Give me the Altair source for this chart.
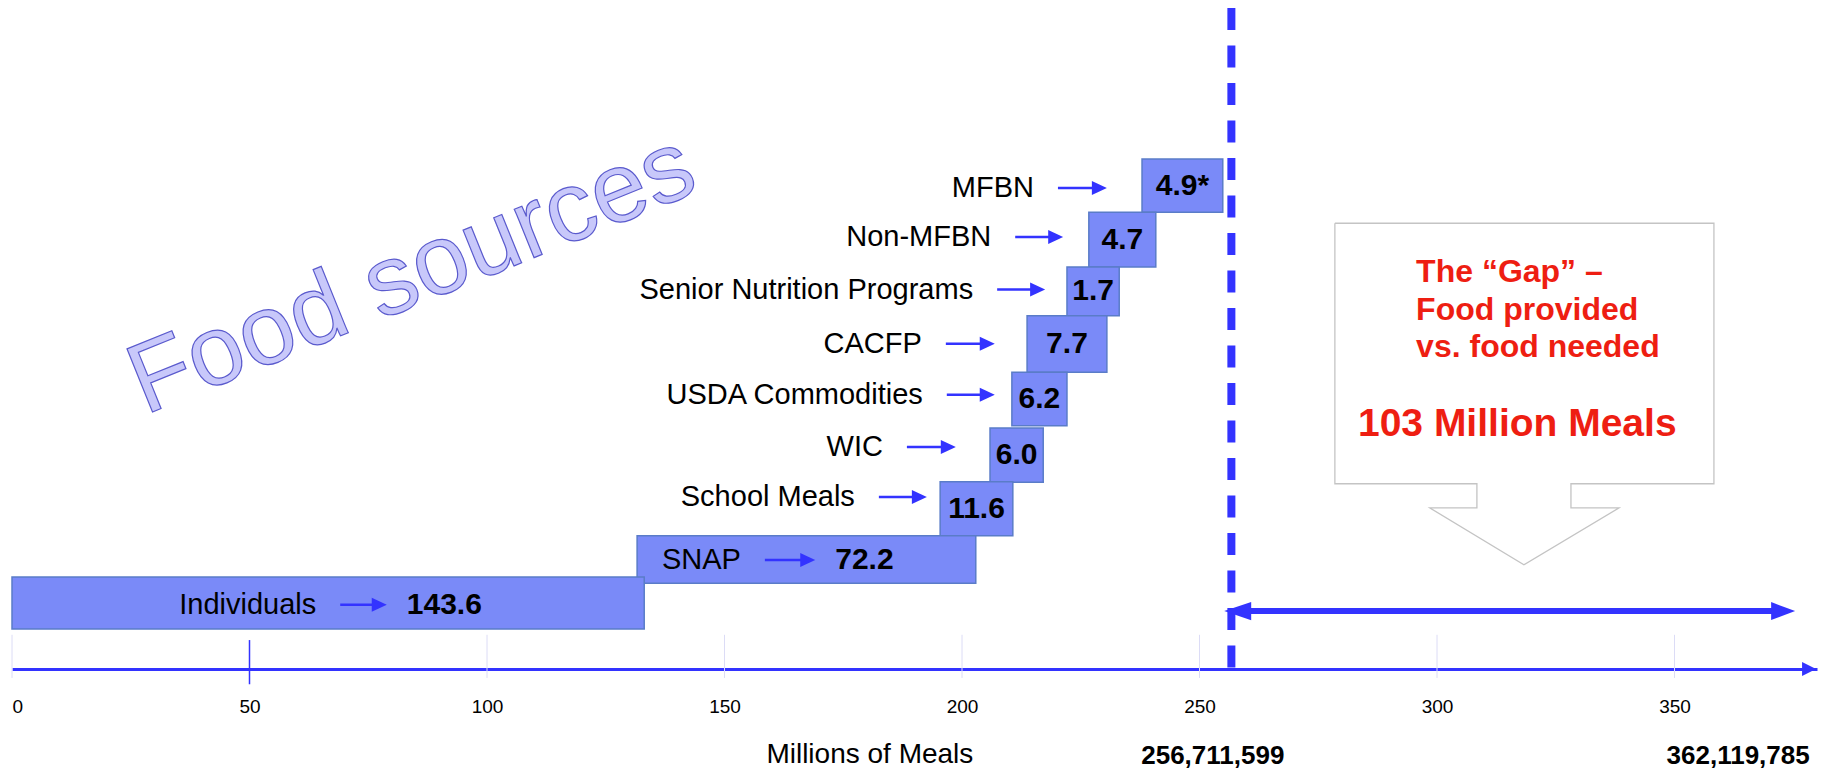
import altair as alt
import pandas as pd

FONT = "Liberation Sans"
BLUE = "#3333FF"
BAR_FILL = "#7A8AF8"
BAR_EDGE = "#5A7CC8"
RED = "#EE1E12"

# ---- data ----
programs = ["MFBN", "Non-MFBN", "Senior Nutrition Programs", "CACFP",
            "USDA Commodities", "WIC", "School Meals", "SNAP", "Individuals"]
meal_labels = ["4.9*", "4.7", "1.7", "7.7", "6.2", "6.0", "11.6", "72.2", "143.6"]
# box extents as drawn on the Millions-of-Meals axis
bar_start = [237.9, 226.7, 222.1, 213.7, 210.5, 205.9, 195.4, 131.6, 0.0]
bar_end = [254.9, 240.8, 233.1, 230.5, 222.1, 217.1, 210.7, 202.9, 133.1]
# staircase levels (rows)
row_lo = [7.92, 6.88, 5.95, 4.88, 3.86, 2.79, 1.77, 0.87, 0.00]
row_hi = [8.93, 7.92, 6.88, 5.95, 4.88, 3.82, 2.80, 1.77, 0.99]
name_level = [8.38, 7.45, 6.45, 5.42, 4.45, 3.46, 2.51, 1.31, 0.46]
arrow_from = [220.2, 211.2, 207.4, 196.6, 196.8, 188.4, 182.5, 158.5, 69.1]
arrow_to = [230.5, 221.3, 217.5, 206.9, 206.9, 198.7, 192.6, 169.1, 78.9]
inline_value = [False, False, False, False, False, False, False, True, True]

tick_values = [0, 50, 100, 150, 200, 250, 300, 350]
food_provided = 256.711599
provided_label = "256,711,599"
needed_label = "362,119,785"
provided_label_x = 252.8
needed_label_x = 363.4
gap_arrow_from = 255.2
gap_arrow_to = 375.4
gap_arrow_level = 0.34
gap_lines = ["The \u201cGap\u201d \u2013", "Food provided", "vs. food needed"]
gap_line_levels = [6.59, 5.87, 5.17]
gap_text_x = 295.6
gap_total = "103 Million Meals"
axis_title = "Millions of Meals"
axis_title_x = 180.6
watermark = "Food sources"

# callout outline (box with a downward arrow)
cb_left, cb_right, cb_top, cb_bottom = 278.5, 358.3, 7.71, 2.76
cb_stem_l, cb_stem_r, cb_stem_bottom = 308.4, 328.2, 2.30
cb_head_l, cb_head_r, cb_tip_x, cb_tip_y = 298.5, 338.3, 318.3, 1.22

X_MAX = 380
Y_MIN, Y_MAX = -0.76, 11.8

# ---- frames ----
rows = pd.DataFrame({
    "program": programs, "label": meal_labels,
    "x0": bar_start, "x1": bar_end, "lo": row_lo, "hi": row_hi,
    "lvl": name_level, "a0": arrow_from, "a1": arrow_to, "inline": inline_value,
})
rows["mid_x"] = (rows["x0"] + rows["x1"]) / 2
rows["mid_y"] = (rows["lo"] + rows["hi"]) / 2

xscale = alt.Scale(domain=[0, X_MAX], nice=False, zero=False)
yscale = alt.Scale(domain=[Y_MIN, Y_MAX], nice=False, zero=False)
xaxis = alt.Axis(values=tick_values, format="d", grid=False, ticks=True, tickSize=0,
                 domain=True, domainColor=BLUE, domainWidth=3,
                 labelFont=FONT, labelFontSize=19, labelColor="black",
                 labelPadding=28, labelFlush=True, title=None)


def X(f):
    return alt.X(f, type="quantitative", scale=xscale, axis=xaxis)


def Y(f):
    return alt.Y(f, type="quantitative", scale=yscale, axis=None)


# watermark
wm = alt.Chart(pd.DataFrame({"t": [watermark], "x": [84.2], "y": [6.73]})).mark_text(
    font=FONT, fontSize=99, angle=338, align="center",
    baseline="middle", fill="#C8C8FA", stroke="#5A5ACD", strokeWidth=1.2
).encode(x=X("x"), y=Y("y"), text="t:N")

# gridlines near axis
grid = pd.DataFrame({"tick": [t for t in tick_values if t != 50]})
grid["y0"] = -0.11
grid["y1"] = -0.93
grid_l = alt.Chart(grid).mark_rule(color="#DCDCF6", strokeWidth=1).encode(
    x=X("tick"), y=Y("y0"), y2="y1")
tick50 = pd.DataFrame({"tick": [50], "y0": [-0.21], "y1": [-1.05]})
tick_l = alt.Chart(tick50).mark_rule(color=BLUE, strokeWidth=1.5).encode(
    x=X("tick"), y=Y("y0"), y2="y1")

# axis arrow head
ax_head = alt.Chart(pd.DataFrame({"x": [379.8], "y": [Y_MIN]})).mark_point(
    shape="M -1 -1 L 1 0 L -1 1 Z", size=196, filled=True, opacity=1,
    color=BLUE, xOffset=-7).encode(x=X("x"), y=Y("y"))

# callout
cpts = [(cb_left, cb_top), (cb_right, cb_top), (cb_right, cb_bottom),
        (cb_stem_r, cb_bottom), (cb_stem_r, cb_stem_bottom), (cb_head_r, cb_stem_bottom),
        (cb_tip_x, cb_tip_y), (cb_head_l, cb_stem_bottom), (cb_stem_l, cb_stem_bottom),
        (cb_stem_l, cb_bottom), (cb_left, cb_bottom), (cb_left, cb_top)]
callout = pd.DataFrame({"x": [p[0] for p in cpts], "y": [p[1] for p in cpts],
                        "i": list(range(len(cpts)))})
callout_l = alt.Chart(callout).mark_line(color="#C4C4C4", strokeWidth=1.3).encode(
    x=X("x"), y=Y("y"), order="i:Q")

# bars
bars = alt.Chart(rows).mark_rect(fill=BAR_FILL, stroke=BAR_EDGE, strokeWidth=1.5).encode(
    x=X("x0"), x2="x1", y=Y("lo"), y2="hi")

names = alt.Chart(rows).mark_text(font=FONT, fontSize=29, align="right", baseline="middle",
                                  dx=-24, color="black").encode(
    x=X("a0"), y=Y("lvl"), text="program:N")

shafts = alt.Chart(rows).mark_rule(color=BLUE, strokeWidth=2.5, x2Offset=-8).encode(
    x=X("a0"), x2="a1", y=Y("lvl"))
heads = alt.Chart(rows).mark_point(shape="M -1 -0.93 L 1 0 L -1 0.93 Z", size=225,
                                   filled=True, opacity=1, color=BLUE, xOffset=-7.5).encode(
    x=X("a1"), y=Y("lvl"))

box_vals = alt.Chart(rows).transform_filter("!datum.inline").mark_text(
    font=FONT, fontSize=30, fontWeight="bold", align="center", baseline="middle",
    color="black").encode(x=X("mid_x"), y=Y("mid_y"), text="label:N")
inline_vals = alt.Chart(rows).transform_filter("datum.inline").mark_text(
    font=FONT, fontSize=30, fontWeight="bold", align="left", baseline="middle",
    dx=20, color="black").encode(x=X("a1"), y=Y("lvl"), text="label:N")

# food provided dashed line
dash = alt.Chart(pd.DataFrame({"x": [food_provided], "top": [Y_MAX], "bot": [Y_MIN]})).mark_rule(
    color=BLUE, strokeWidth=8, strokeDash=[22, 15.5]).encode(x=X("x"), y=Y("top"), y2="bot")

# gap double arrow
gap = pd.DataFrame({"a": [gap_arrow_from], "b": [gap_arrow_to], "y": [gap_arrow_level]})
gap_shaft = alt.Chart(gap).mark_rule(color=BLUE, strokeWidth=6, xOffset=20, x2Offset=-15).encode(
    x=X("a"), x2="b", y=Y("y"))
gap_lh = alt.Chart(gap).mark_point(shape="M 1 -0.67 L -1 0 L 1 0.67 Z", size=729, filled=True,
                                   opacity=1, color=BLUE, xOffset=13.5).encode(x=X("a"), y=Y("y"))
gap_rh = alt.Chart(gap).mark_point(shape="M -1 -0.75 L 1 0 L -1 0.75 Z", size=576, filled=True,
                                   opacity=1, color=BLUE, xOffset=-12).encode(x=X("b"), y=Y("y"))

# red gap text
gap_txt = alt.Chart(pd.DataFrame({"t": gap_lines, "x": [gap_text_x] * 3, "y": gap_line_levels})).mark_text(
    font=FONT, fontSize=32, fontWeight="bold", align="left", baseline="alphabetic", color=RED
).encode(x=X("x"), y=Y("y"), text="t:N")
gap_tot = alt.Chart(pd.DataFrame({"t": [gap_total], "x": [316.9], "y": [3.67]})).mark_text(
    font=FONT, fontSize=39, fontWeight="bold", align="center", baseline="alphabetic", color=RED
).encode(x=X("x"), y=Y("y"), text="t:N")

# bottom texts
title_t = alt.Chart(pd.DataFrame({"t": [axis_title], "x": [axis_title_x], "y": [-2.55]})).mark_text(
    font=FONT, fontSize=28, align="center", baseline="alphabetic", color="black"
).encode(x=X("x"), y=Y("y"), text="t:N")
totals = alt.Chart(pd.DataFrame({"t": [provided_label, needed_label],
                                 "x": [provided_label_x, needed_label_x], "y": [-2.56, -2.56]})).mark_text(
    font=FONT, fontSize=26, fontWeight="bold", align="center", baseline="alphabetic", color="black"
).encode(x=X("x"), y=Y("y"), text="t:N")

chart = alt.layer(
    wm, grid_l, tick_l, callout_l, bars, names, shafts, heads, box_vals, inline_vals,
    dash, gap_shaft, gap_lh, gap_rh, gap_txt, gap_tot, title_t, totals, ax_head
).properties(
    width=1805, height=661,
    padding={"left": 4, "top": 0, "right": 8, "bottom": 102},
    autosize=alt.AutoSizeParams(type="none"),
).configure_view(strokeWidth=0)

chart.save("out.html", embed_options={"renderer": "svg", "actions": False})
